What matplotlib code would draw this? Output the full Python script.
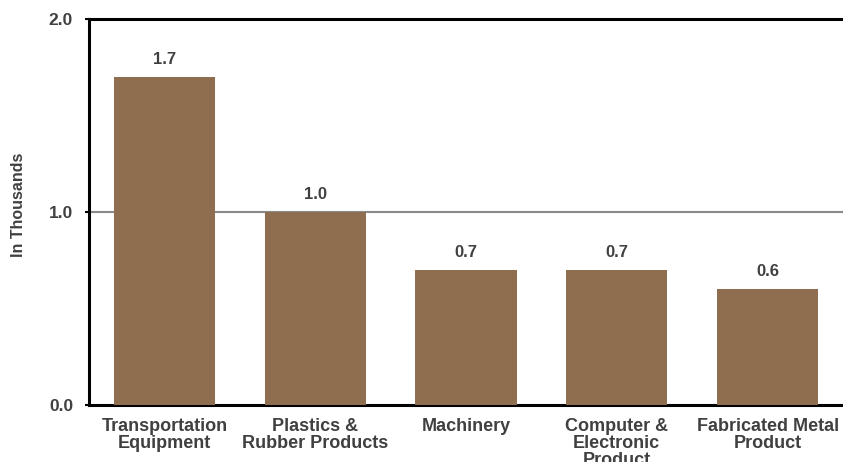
import matplotlib
matplotlib.use("Agg")
import matplotlib.pyplot as plt

categories = ["Transportation\nEquipment", "Plastics &\nRubber Products", "Machinery",
              "Computer &\nElectronic\nProduct", "Fabricated Metal\nProduct"]
values = [1.7, 1.0, 0.7, 0.7, 0.6]
value_labels = ["1.7", "1.0", "0.7", "0.7", "0.6"]
yticks = [0.0, 1.0, 2.0]
ytick_labels = ["0.0", "1.0", "2.0"]

plt.rcParams['font.family'] = ['Liberation Sans', 'DejaVu Sans']
text_color = "#404040"

fig = plt.figure(figsize=(8.43, 4.62), dpi=100)
ax = fig.add_axes([89/843, (462-405)/462, (843-89)/843, (405-19)/462])

x = list(range(len(categories)))
bars = ax.bar(x, values, width=0.67, color="#8F6E4F", zorder=3)

ax.set_xlim(-0.5, 4.5)
ax.set_ylim(0, 2.0)
ax.axhline(1.0, color="#8a8a8a", linewidth=1.5, zorder=1)
ax.axhline(2.0, color="black", linewidth=2.2, zorder=4, clip_on=False)

for b, lab in zip(bars, value_labels):
    ax.annotate(lab, (b.get_x() + b.get_width()/2, b.get_height()),
                xytext=(0, 9.5), textcoords="offset points", ha="center", va="baseline",
                fontsize=12, fontweight="bold", color=text_color)

ax.set_yticks(yticks)
ax.set_yticklabels(ytick_labels, fontsize=12.5, fontweight="bold", color=text_color)
ax.set_xticks(x)
ax.set_xticklabels(categories, fontsize=13, fontweight="bold", color=text_color,
                   linespacing=1.0)
ax.tick_params(axis="x", length=0, pad=9.5)
ax.tick_params(axis="y", length=3, width=1.5, direction="out", pad=8.5)

for s in ["top", "right"]:
    ax.spines[s].set_visible(False)
ax.spines["left"].set_linewidth(2.2)
ax.spines["bottom"].set_linewidth(2.2)

ax.set_ylabel("In Thousands", fontsize=11.5, fontweight="bold", color=text_color)
ax.yaxis.set_label_coords(-0.083, 0.518)

fig.savefig("out.png", dpi=100)
